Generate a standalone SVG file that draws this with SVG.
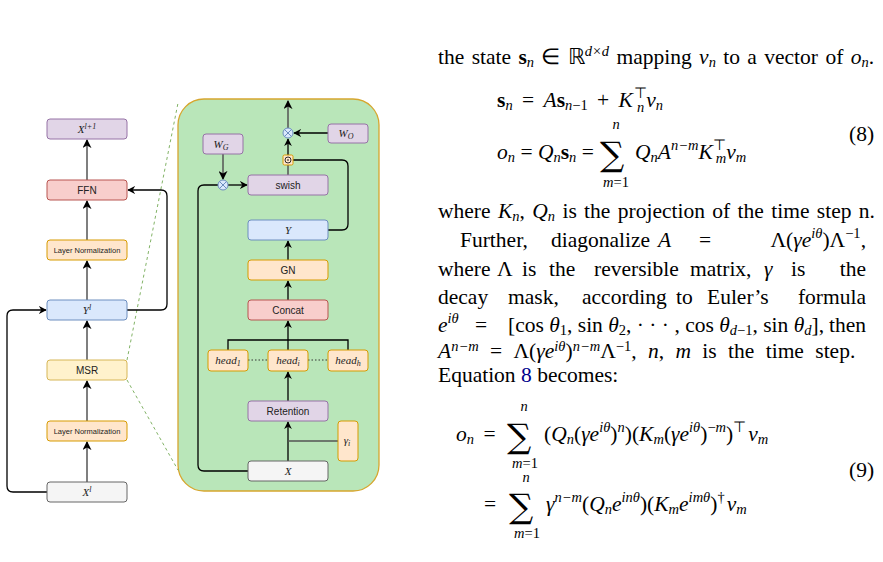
<svg xmlns="http://www.w3.org/2000/svg" width="883" height="562" viewBox="0 0 883 562">
<defs>
<marker id="ar" viewBox="0 0 10 10" refX="9" refY="5" markerWidth="6" markerHeight="6" orient="auto"><path d="M0,0 L10,5 L0,10 L3,5 z" fill="#000"/></marker>
<style>
.pu{fill:#e1d5e7;stroke:#9673a6}
.rd{fill:#f8cecc;stroke:#b85450}
.or{fill:#ffe6cc;stroke:#d79b00}
.bl{fill:#dae8fc;stroke:#6c8ebf}
.ye{fill:#fff2cc;stroke:#d6b656}
.gr{fill:#f5f5f5;stroke:#666}
.t{font-family:"Liberation Sans",Arial,sans-serif;font-size:10px;text-anchor:middle;fill:#222}
.s{font-size:7.5px}
.m{font-family:"Liberation Serif","Times New Roman",serif;font-style:italic;font-size:11px;text-anchor:middle;fill:#222}
.c{fill:none;stroke:#000;stroke-width:1.3}
.cg{fill:none;stroke:#555;stroke-width:1.5}
.p{font-family:"Liberation Serif","Times New Roman",serif;font-size:21.5px;fill:#000}
.i{font-style:italic}
.sum{font-family:"DejaVu Serif",serif;font-size:34px}
.sm{font-size:14.5px}
.e{text-anchor:end}
.w{word-spacing:4px}
</style>
</defs>
<rect width="883" height="562" fill="#fff"/>
<rect x="178" y="99" width="201" height="392" rx="26" fill="#b9e6b9" stroke="#d6a62e" stroke-width="1.3"/>
<g id="connectors">
<line x1="127" y1="360" x2="178" y2="103" stroke="#82b366" stroke-dasharray="3,3"/>
<line x1="127" y1="380" x2="178" y2="470" stroke="#82b366" stroke-dasharray="3,3"/>
<line class="cg" x1="87" y1="482" x2="87" y2="442" marker-end="url(#ar)"/>
<line class="cg" x1="87" y1="421" x2="87" y2="381" marker-end="url(#ar)"/>
<line class="cg" x1="87" y1="360" x2="87" y2="321" marker-end="url(#ar)"/>
<line class="cg" x1="87" y1="300" x2="87" y2="261" marker-end="url(#ar)"/>
<line class="cg" x1="87" y1="240" x2="87" y2="201" marker-end="url(#ar)"/>
<line class="cg" x1="87" y1="180" x2="87" y2="140" marker-end="url(#ar)"/>
<path class="c" d="M47,492 H13 Q7,492 7,486 V316 Q7,310 13,310 H46" marker-end="url(#ar)"/>
<path class="c" d="M127,310 H161 Q167,310 167,304 V196 Q167,190 161,190 H128" marker-end="url(#ar)"/>
<line class="c" x1="288" y1="461" x2="288" y2="422" marker-end="url(#ar)"/>
<line class="cg" x1="338" y1="441" x2="288" y2="441"/>
<line class="c" x1="288" y1="401" x2="288" y2="372" marker-end="url(#ar)"/>
<line x1="248" y1="360" x2="268" y2="360" stroke="#333" stroke-dasharray="1.5,2"/>
<line x1="308" y1="360" x2="328" y2="360" stroke="#333" stroke-dasharray="1.5,2"/>
<path class="c" d="M228,350 V340 H348 V350"/>
<line class="c" x1="288" y1="350" x2="288" y2="321" marker-end="url(#ar)"/>
<line class="c" x1="288" y1="300" x2="288" y2="281" marker-end="url(#ar)"/>
<line class="c" x1="288" y1="260" x2="288" y2="241" marker-end="url(#ar)"/>
<path class="c" d="M328,230 H342 Q348,230 348,224 V166 Q348,160 342,160 H293"/>
<line class="cg" x1="288" y1="175" x2="288" y2="165"/>
<line class="c" x1="288" y1="155" x2="288" y2="139" marker-end="url(#ar)"/>
<line class="c" x1="328" y1="133" x2="294" y2="133" marker-end="url(#ar)"/>
<line class="cg" x1="288" y1="128" x2="288" y2="101" marker-end="url(#ar)"/>
<line class="cg" x1="223" y1="154" x2="223" y2="179" marker-end="url(#ar)"/>
<path class="c" d="M248,471 H204 Q198,471 198,465 V191 Q198,185 204,185 H218"/>
<line class="c" x1="228" y1="185" x2="247" y2="185" marker-end="url(#ar)"/>
</g>
<g id="n-xl1"><rect class="pu" x="47" y="119" width="80" height="20" rx="3"/><text class="m" x="87" y="133">X<tspan font-size="8" dy="-4">l+1</tspan></text></g>
<g id="n-ffn"><rect class="rd" x="47" y="180" width="80" height="20" rx="3"/><text class="t" x="87" y="194">FFN</text></g>
<g id="n-ln2"><rect class="or" x="47" y="240" width="80" height="20" rx="3"/><text class="t s" x="87" y="253">Layer Normalization</text></g>
<g id="n-yl"><rect class="bl" x="47" y="300" width="80" height="20" rx="3"/><text class="m" x="87" y="314">Y<tspan font-size="8" dy="-4">l</tspan></text></g>
<g id="n-msr"><rect class="ye" x="47" y="360" width="80" height="20" rx="3"/><text class="t" x="87" y="374">MSR</text></g>
<g id="n-ln1"><rect class="or" x="47" y="421" width="80" height="20" rx="3"/><text class="t s" x="87" y="434">Layer Normalization</text></g>
<g id="n-xl"><rect class="gr" x="47" y="482" width="80" height="20" rx="3"/><text class="m" x="87" y="496">X<tspan font-size="8" dy="-4">l</tspan></text></g>
<g id="n-x"><rect class="gr" x="248" y="461" width="80" height="20" rx="3"/><text class="m" x="288" y="475">X</text></g>
<g id="n-ret"><rect class="pu" x="248" y="401" width="80" height="20" rx="3"/><text class="t" x="288" y="415" font-size="11">Retention</text></g>
<g id="n-gam"><rect class="or" x="338" y="421" width="20" height="40" rx="3"/><text class="m" x="347" y="444">γ<tspan font-size="8" dy="2">i</tspan></text></g>
<g id="n-h1"><rect class="or" x="208" y="350" width="40" height="21" rx="3"/><text class="m" x="228" y="364">head<tspan font-size="8" dy="2">1</tspan></text></g>
<g id="n-hi"><rect class="or" x="268" y="350" width="40" height="21" rx="3"/><text class="m" x="288" y="364">head<tspan font-size="8" dy="2">i</tspan></text></g>
<g id="n-hh"><rect class="or" x="328" y="350" width="40" height="21" rx="3"/><text class="m" x="348" y="364">head<tspan font-size="8" dy="2">h</tspan></text></g>
<g id="n-concat"><rect class="rd" x="248" y="300" width="80" height="20" rx="3"/><text class="t" x="288" y="314">Concat</text></g>
<g id="n-gn"><rect class="or" x="248" y="260" width="80" height="20" rx="3"/><text class="t" x="288" y="274">GN</text></g>
<g id="n-y"><rect class="bl" x="248" y="220" width="80" height="20" rx="3"/><text class="m" x="288" y="234">Y</text></g>
<g id="n-swish"><rect class="pu" x="248" y="175" width="80" height="20" rx="3"/><text class="t" x="288" y="189">swish</text></g>
<g id="n-odot"><rect x="283" y="155" width="10" height="10" rx="1.5" fill="#ffe6cc" stroke="#d79b00"/><circle cx="288" cy="160" r="3" fill="none" stroke="#000" stroke-width="0.8"/><circle cx="288" cy="160" r="0.8"/></g>
<g id="n-otimes1"><circle cx="288" cy="133" r="5" fill="#dae8fc" stroke="#6c8ebf"/><path d="M284.5,129.5 L291.5,136.5 M291.5,129.5 L284.5,136.5" stroke="#6c8ebf"/></g>
<g id="n-otimes2"><circle cx="223" cy="185" r="5" fill="#dae8fc" stroke="#6c8ebf"/><path d="M219.5,181.5 L226.5,188.5 M226.5,181.5 L219.5,188.5" stroke="#6c8ebf"/></g>
<g id="n-wo"><rect class="pu" x="328" y="124" width="40" height="19" rx="3"/><text class="m" x="346" y="137">W<tspan font-size="8" dy="2">O</tspan></text></g>
<g id="n-wg"><rect class="pu" x="203" y="134" width="40" height="20" rx="3"/><text class="m" x="221" y="148">W<tspan font-size="8" dy="2">G</tspan></text></g>

<g class="p">
<text x="438" y="64" word-spacing="2">the state <tspan font-weight="bold">s</tspan><tspan class="i sm" dy="3">n</tspan><tspan dy="-3"> ∈ ℝ</tspan><tspan class="i sm" dy="-8">d×d</tspan><tspan dy="8"> mapping </tspan><tspan class="i">v</tspan><tspan class="i sm" dy="3">n</tspan><tspan dy="-3"> to a vector of </tspan><tspan class="i">o</tspan><tspan class="i sm" dy="3">n</tspan><tspan dy="-3">.</tspan></text>
<text class="w" x="497" y="107"><tspan font-weight="bold">s</tspan><tspan class="i sm" dy="3">n</tspan><tspan dy="-3"> = </tspan><tspan class="i">A</tspan><tspan font-weight="bold">s</tspan><tspan class="i sm" dy="3">n</tspan><tspan class="sm">−1</tspan><tspan dy="-3"> + </tspan><tspan class="i">K</tspan><tspan class="sm" dx="1" dy="-9">⊤</tspan><tspan class="i sm" dx="-10" dy="14">n</tspan><tspan class="i" dy="-5" dx="2">v</tspan><tspan class="i sm" dy="3">n</tspan></text>
<text x="497" y="159"><tspan class="i">o</tspan><tspan class="i sm" dy="3">n</tspan><tspan dy="-3"> = </tspan><tspan class="i">Q</tspan><tspan class="i sm" dy="3">n</tspan><tspan font-weight="bold" dy="-3">s</tspan><tspan class="i sm" dy="3">n</tspan><tspan dy="-3"> =</tspan></text>
<text class="sum" x="600" y="166">∑</text>
<text class="i sm" x="616" y="129" text-anchor="middle">n</text>
<text class="sm" x="616" y="187" text-anchor="middle"><tspan class="i">m</tspan>=1</text>
<text x="635" y="159"><tspan class="i">Q</tspan><tspan class="i sm" dy="3">n</tspan><tspan class="i" dy="-3">A</tspan><tspan class="i sm" dy="-9">n−m</tspan><tspan class="i" dy="9">K</tspan><tspan class="sm" dy="-9">⊤</tspan><tspan class="i sm" dx="-10" dy="13">m</tspan><tspan class="i" dy="-4">v</tspan><tspan class="i sm" dy="3">m</tspan></text>
<text x="849" y="141">(8)</text>
<text x="438" y="218" word-spacing="2">where <tspan class="i">K</tspan><tspan class="i sm" dy="3">n</tspan><tspan dy="-3">, </tspan><tspan class="i">Q</tspan><tspan class="i sm" dy="3">n</tspan><tspan dy="-3"> is the projection of the time step n.</tspan></text>
<text x="460" y="247">Further,</text><text x="551" y="247">diagonalize</text><text class="i" x="658" y="247">A</text><text x="699" y="247">=</text>
<text class="e" x="866" y="247">Λ(<tspan class="i">γe</tspan><tspan class="i sm" dy="-9">iθ</tspan><tspan dy="9">)Λ</tspan><tspan class="sm" dy="-9">−1</tspan><tspan dy="9">,</tspan></text>
<text x="438" y="276">where</text><text x="497" y="276">Λ</text><text x="522" y="276">is</text><text x="549" y="276">the</text><text x="594" y="276">reversible</text><text x="690" y="276">matrix,</text><text class="i" x="764" y="276">γ</text><text x="791" y="276">is</text><text class="e" x="866" y="276">the</text>
<text x="438" y="304">decay</text><text x="508" y="304">mask,</text><text x="582" y="304">according</text><text x="676" y="304">to</text><text x="707" y="304">Euler’s</text><text class="e" x="866" y="304">formula</text>
<text x="438" y="332"><tspan class="i">e</tspan><tspan class="i sm" dy="-9">iθ</tspan></text><text x="475" y="332">=</text>
<text x="508" y="332">[cos <tspan class="i">θ</tspan><tspan class="sm" dy="3">1</tspan><tspan dy="-3">, sin </tspan><tspan class="i">θ</tspan><tspan class="sm" dy="3">2</tspan><tspan dy="-3">, · · · , cos </tspan><tspan class="i">θ</tspan><tspan class="i sm" dy="3">d</tspan><tspan class="sm">−1</tspan><tspan dy="-3">, sin </tspan><tspan class="i">θ</tspan><tspan class="i sm" dy="3">d</tspan><tspan dy="-3">],</tspan></text>
<text class="e" x="866" y="332">then</text>
<text x="438" y="358" word-spacing="6"><tspan class="i">A</tspan><tspan class="i sm" dy="-7">n−m</tspan><tspan dy="7"> = Λ(</tspan><tspan class="i">γe</tspan><tspan class="i sm" dy="-7">iθ</tspan><tspan dy="7">)</tspan><tspan class="i sm" dy="-7">n−m</tspan><tspan dy="7">Λ</tspan><tspan class="sm" dy="-7">−1</tspan><tspan dy="7">, </tspan><tspan class="i">n</tspan>, <tspan class="i">m</tspan> is the time step.</text>
<text x="438" y="382">Equation <tspan fill="#00008b">8</tspan> becomes:</text>
<text class="w" x="456" y="441"><tspan class="i">o</tspan><tspan class="i sm" dy="3">n</tspan><tspan dy="-3"> =</tspan></text>
<text class="sum" x="507" y="448">∑</text>
<text class="i sm" x="524" y="411" text-anchor="middle">n</text>
<text class="sm" x="525" y="468" text-anchor="middle"><tspan class="i">m</tspan>=1</text>
<text x="544" y="441">(<tspan class="i">Q</tspan><tspan class="i sm" dy="3">n</tspan><tspan dy="-3">(</tspan><tspan class="i">γe</tspan><tspan class="i sm" dy="-9">iθ</tspan><tspan dy="9">)</tspan><tspan class="i sm" dy="-9">n</tspan><tspan dy="9">)(</tspan><tspan class="i">K</tspan><tspan class="i sm" dy="3">m</tspan><tspan dy="-3">(</tspan><tspan class="i">γe</tspan><tspan class="i sm" dy="-9">iθ</tspan><tspan dy="9">)</tspan><tspan class="sm" dy="-9">−<tspan class="i">m</tspan></tspan><tspan dy="9">)</tspan><tspan class="sm" dy="-9">⊤</tspan><tspan class="i" dy="9" dx="2">v</tspan><tspan class="i sm" dy="3">m</tspan></text>
<text x="484" y="511">=</text>
<text class="sum" x="509" y="518">∑</text>
<text class="i sm" x="526" y="482" text-anchor="middle">n</text>
<text class="sm" x="527" y="538" text-anchor="middle"><tspan class="i">m</tspan>=1</text>
<text x="546" y="511"><tspan class="i">γ</tspan><tspan class="i sm" dy="-9">n−m</tspan><tspan dy="9">(</tspan><tspan class="i">Q</tspan><tspan class="i sm" dy="3">n</tspan><tspan class="i" dy="-3">e</tspan><tspan class="i sm" dy="-9">inθ</tspan><tspan dy="9">)(</tspan><tspan class="i">K</tspan><tspan class="i sm" dy="3">m</tspan><tspan class="i" dy="-3">e</tspan><tspan class="i sm" dy="-9">imθ</tspan><tspan dy="9">)</tspan><tspan class="sm" dy="-9">†</tspan><tspan class="i" dy="9" dx="2">v</tspan><tspan class="i sm" dy="3">m</tspan></text>
<text x="849" y="477">(9)</text>
</g>
</svg>
